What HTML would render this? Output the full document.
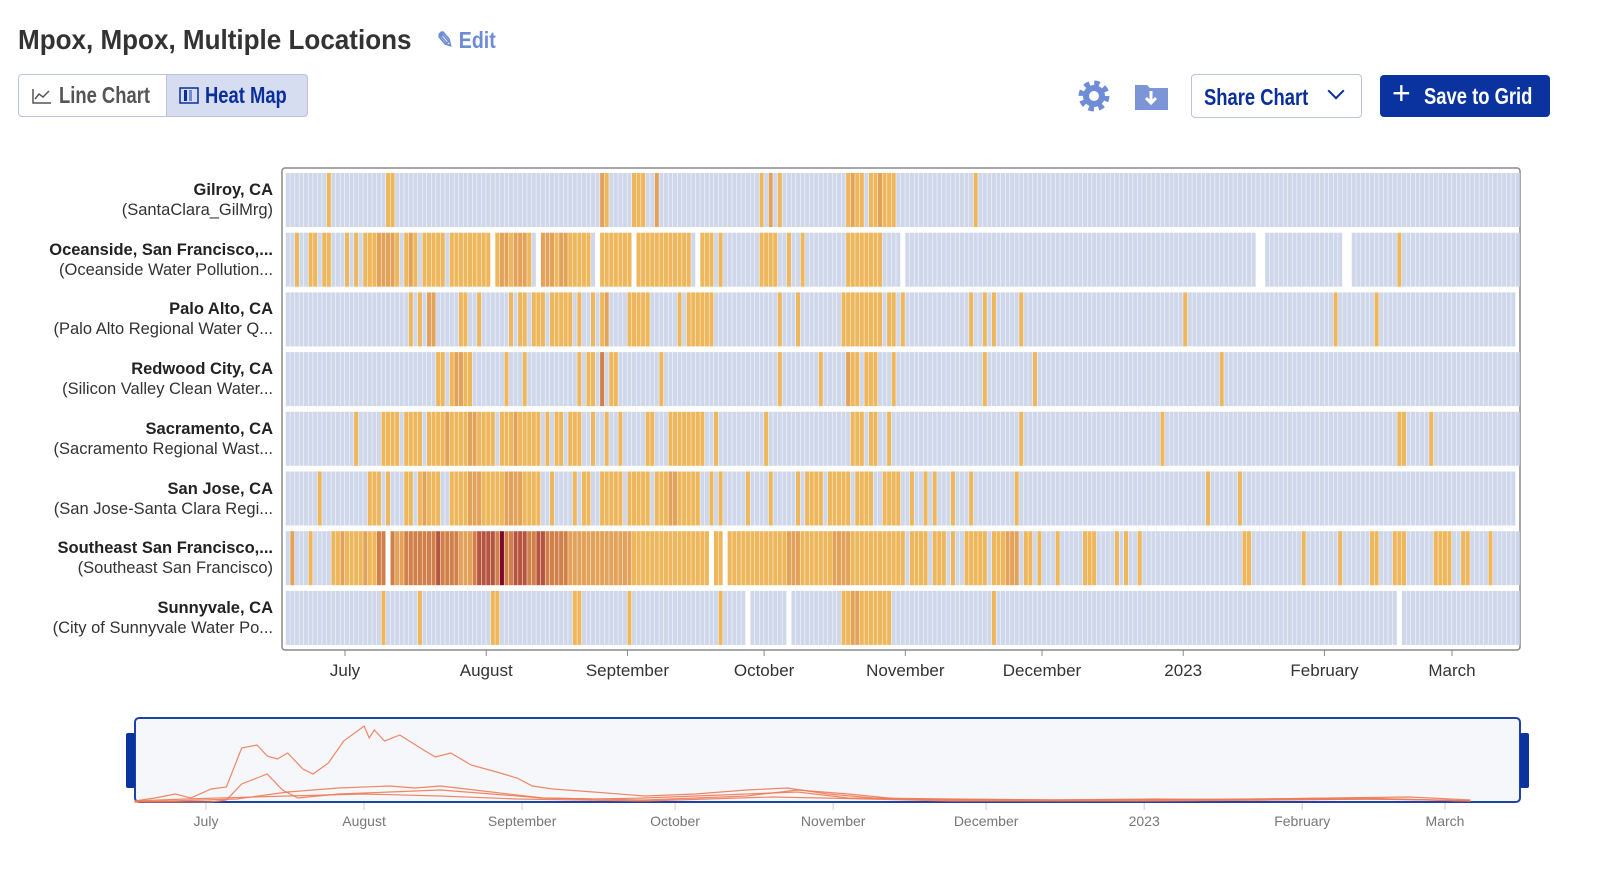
<!DOCTYPE html>
<html><head><meta charset="utf-8">
<style>
body{margin:0;background:#fff;width:1606px;height:872px;overflow:hidden;font-family:"Liberation Sans",sans-serif;color:#333;position:relative}
.abs{position:absolute;white-space:nowrap}
.sq{display:inline-block;transform-origin:left center}
#title{left:18px;top:24px;font-size:28px;font-weight:bold;color:#333}
#edit{left:437px;top:27px;font-size:23px;color:#6d8bd6;font-weight:bold}
.tog{top:74px;height:43px;border:1px solid #b9c4e0;box-sizing:border-box;font-size:23px;font-weight:bold;display:flex;align-items:center;gap:6px;padding-left:12px;overflow:hidden}
#share{left:1191px;top:74px;width:171px;height:44px;border:1px solid #b9c4e0;border-radius:4px;box-sizing:border-box;color:#0a2f9c;font-size:23px;font-weight:bold;padding:9px 0 0 12px}
#save{left:1380px;top:75px;width:170px;height:42px;background:#0a33a0;border-radius:4px;color:#fff;font-size:23px;font-weight:bold;box-sizing:border-box;padding:8px 0 0 44px}
.rl{right:1333px;text-align:right;font-size:16.5px;line-height:20px;white-space:nowrap}
.rl b{color:#222}
</style></head><body>
<div class="abs" id="title"><span class="sq" style="transform:scaleX(0.93)">Mpox, Mpox, Multiple Locations</span></div>
<div class="abs" id="edit"><span class="sq" style="transform:scaleX(0.85)">✎ Edit</span></div>
<div class="abs tog" style="left:18px;width:149px;border-radius:4px 0 0 4px;color:#555"><svg width="22" height="18" style="flex:none"><path d="M2 2V16H20" stroke="#555" fill="none" stroke-width="1.5"/><path d="M4 12L8 7L12 10L18 4" stroke="#555" fill="none" stroke-width="1.5"/></svg><span class="sq" style="transform:scaleX(0.8)">Line Chart</span></div>
<div class="abs tog" style="left:166px;width:142px;border-radius:0 4px 4px 0;background:#d7ddf0;color:#0a2f9c"><svg width="20" height="18" style="flex:none"><rect x="1" y="1" width="18" height="15" fill="none" stroke="#0a2f9c" stroke-width="1.5"/><rect x="5" y="3" width="3" height="11" fill="#0a2f9c"/><rect x="10" y="3" width="3" height="11" fill="#6d8bd6"/></svg><span class="sq" style="transform:scaleX(0.8)">Heat Map</span></div>
<svg class="abs" style="left:1076px;top:78px" width="36" height="36"><circle cx="18" cy="18" r="12" fill="none" stroke="#6f8cd6" stroke-width="7" stroke-dasharray="5 4.4"/><circle cx="18" cy="18" r="11" fill="#6f8cd6"/><circle cx="18" cy="18" r="5" fill="#fff"/></svg>
<svg class="abs" style="left:1134px;top:82px" width="36" height="30"><path d="M1 3H13L16 6H34V28H1Z" fill="#7b95d6"/><path d="M17 9V21M12 16L17 21L22 16" stroke="#fff" stroke-width="3" fill="none"/></svg>
<div class="abs" id="share"><span class="sq" style="transform:scaleX(0.8)">Share Chart</span><span style="position:absolute;left:138px;top:10px;width:10px;height:10px;border-right:2.5px solid #0a2f9c;border-bottom:2.5px solid #0a2f9c;transform:rotate(45deg)"></span></div>
<div class="abs" id="save"><span style="position:absolute;left:12px;top:0px;font-size:32px;font-weight:normal">+</span><span class="sq" style="transform:scaleX(0.8)">Save to Grid</span></div>

<div id="labels"></div>
<svg id="chart" class="abs" style="left:0;top:0" width="1606" height="872"></svg>

<script>
const rowNames=["Gilroy, CA","Oceanside, San Francisco,...","Palo Alto, CA","Redwood City, CA","Sacramento, CA","San Jose, CA","Southeast San Francisco,...","Sunnyvale, CA"];
const rowSites=["(SantaClara_GilMrg)","(Oceanside Water Pollution...","(Palo Alto Regional Water Q...","(Silicon Valley Clean Water...","(Sacramento Regional Wast...","(San Jose-Santa Clara Regi...","(Southeast San Francisco)","(City of Sunnyvale Water Po..."];
const startDate="2022-06-18";
const rowEnd=[270,270,269,270,270,269,270,270];
const rowGaps=[[],[45,55,68,76,90,135,213,214,232,233],[],[],[],[],[22,93,96],[101,110,244]];
// events: [startDay, nDays, level]
const ev0=[[9,1,1],[22,2,1],[69,1,2],[70,1,1],[76,3,1],[81,1,2],[104,1,1],[106,1,2],[108,1,1],[123,4,1],[124,1,2],[128,6,1],[130,1,2],[151,1,1]];
const ev1=[[2,1,1],[5,2,1],[8,2,1],[13,1,1],[15,1,1],[17,8,1],[20,4,2],[26,3,1],[27,1,2],[30,5,1],[36,9,1],[46,8,1],[47,2,2],[50,3,2],[56,3,2],[59,8,1],[60,2,2],[69,7,1],[77,12,1],[91,3,1],[95,1,1],[104,4,1],[110,1,1],[113,1,1],[123,8,1],[244,1,1]];
const ev2=[[27,1,1],[29,1,1],[31,2,2],[38,2,1],[42,1,1],[49,1,1],[51,1,1],[52,1,1],[54,3,1],[58,5,1],[64,1,1],[67,1,1],[69,1,1],[70,1,2],[75,5,1],[86,1,1],[88,6,1],[108,1,1],[112,1,1],[122,9,1],[132,2,1],[135,1,1],[150,1,1],[153,1,1],[155,1,1],[161,1,1],[197,1,1],[230,1,1],[239,1,1]];
const ev3=[[33,2,1],[36,4,1],[37,2,2],[40,1,1],[48,1,1],[52,1,1],[64,1,1],[66,2,1],[69,1,3],[71,2,1],[82,1,1],[108,1,1],[117,1,1],[123,3,1],[123,1,2],[127,3,1],[133,1,1],[153,1,1],[164,1,1],[205,1,1]];
const ev4=[[15,1,1],[21,4,1],[26,4,1],[31,15,1],[35,1,2],[40,2,2],[47,9,1],[50,1,2],[57,1,1],[59,2,1],[62,2,1],[64,1,1],[67,1,1],[70,1,1],[73,1,1],[79,2,1],[84,8,1],[94,1,1],[105,1,1],[124,3,1],[128,2,1],[132,1,1],[161,1,1],[192,1,1],[244,2,1],[251,1,1]];
const ev5=[[7,1,1],[18,3,1],[22,1,1],[26,2,1],[29,5,1],[30,1,2],[36,20,1],[40,3,2],[48,4,2],[58,1,1],[63,1,1],[65,2,1],[69,3,1],[72,2,1],[75,5,1],[81,9,1],[84,2,2],[90,1,1],[93,1,1],[95,1,1],[101,1,1],[106,1,1],[112,1,1],[114,4,1],[119,5,1],[125,4,1],[131,2,1],[133,2,1],[137,1,1],[140,1,1],[142,1,1],[146,1,1],[150,1,1],[160,1,1],[202,1,1],[209,1,1]];
const ev6=[[1,1,2],[5,1,1],[10,12,1],[12,1,2],[17,1,2],[20,2,3],[23,10,3],[24,2,2],[33,1,4],[34,13,3],[38,3,2],[42,4,4],[47,1,5],[48,14,3],[50,3,4],[55,2,4],[62,14,2],[76,17,1],[94,2,1],[97,7,1],[104,26,1],[110,3,2],[120,4,2],[130,6,1],[137,2,1],[139,2,1],[142,3,1],[146,1,1],[149,5,1],[155,3,1],[158,3,2],[162,2,1],[165,1,1],[169,1,1],[175,3,1],[182,1,1],[184,1,1],[187,1,1],[210,2,1],[223,1,1],[231,1,1],[238,2,1],[243,3,1],[252,4,1],[258,2,1],[264,1,1]];
const ev7=[[21,1,1],[29,1,1],[45,2,1],[63,2,1],[75,1,1],[95,1,1],[122,11,1],[124,2,2],[155,1,1]];
const rowEvents=[ev0,ev1,ev2,ev3,ev4,ev5,ev6,ev7];
const levelColors=["#cfd7ea","#eeb75c","#e3a25a","#d08048","#b5553f","#7d0a2c"];
const monthTicks=["2022-07-01","2022-08-01","2022-09-01","2022-10-01","2022-11-01","2022-12-01","2023-01-01","2023-02-01","2023-03-01"];
const monthLabels=["July","August","September","October","November","December","2023","February","March"];
const navStart="2022-06-17";
const navDaysA=[0,4,8,11,15,18,21,24,26,28,30,33,35,38,41,45,46,47,49,52,57,59,62,66,71,75,78,82,90,100,110,120,128,136,145,160,180,200,220,240,255,262];
const navValsA=[1,4,8,4,13,15,54,57,46,43,49,33,28,39,61,76,64,72,61,67,51,45,49,37,30,24,16,13,10,6,8,12,14,8,4,3,2,3,2,3,2,1];
const navDaysB=[0,15,18,21,24,26,29,32,40,50,60,70,80,90,100,120,130,140,160,200,240,255,262];
const navValsB=[0,0,2,18,24,28,12,4,8,10,12,8,4,3,4,8,10,4,2,2,4,2,1];
const navDaysC=[0,20,30,40,50,55,60,70,80,100,120,130,140,150,180,220,250,262];
const navValsC=[0,3,10,14,16,14,16,10,4,2,6,12,8,3,2,3,5,2];
const navDaysD=[0,10,30,45,60,75,100,125,135,160,200,245,262];
const navValsD=[1,3,6,8,6,3,1,5,4,1,1,3,1];

const NS="http://www.w3.org/2000/svg";
const svg=document.getElementById('chart');
const DAY=86400000;
const t0=Date.parse(startDate);
const pxDay=(1452-345)/((Date.parse("2023-03-01")-Date.parse("2022-07-01"))/DAY);
const x0=345-((Date.parse("2022-07-01")-t0)/DAY)*pxDay;
function xDay(d){return x0+d*pxDay;}
function xDate(s){return xDay((Date.parse(s)-t0)/DAY);}
function mk(tag,attrs,parent){const e=document.createElementNS(NS,tag);for(const k in attrs)e.setAttribute(k,attrs[k]);(parent||svg).appendChild(e);return e;}
const rowTop=173,rowStep=59.7,rowH=54;
const frame=mk('rect',{x:282,y:168,width:1238,height:482,rx:3,fill:'#fff',stroke:'#8a8a8a','stroke-width':1.5});


const labels=document.getElementById('labels');
rowNames.forEach((nm,r)=>{
  const g=mk('g',{});
  
  
  const vals=new Array(rowEnd[r]+1).fill(0);
  rowEvents[r].forEach(([s,n,l])=>{for(let d=s;d<s+n&&d<vals.length;d++)vals[d]=l;});
  rowGaps[r].forEach(d=>{if(d<vals.length)vals[d]=-1;});
  const y=rowTop+r*rowStep;
  vals.forEach((v,d)=>{
    if(v<0)return;
    const c=mk('rect',{x:xDay(d).toFixed(2),y:y.toFixed(1),width:(pxDay-0.5).toFixed(2),height:rowH,fill:levelColors[v]},g);
    
    
  });
  const lab=document.createElement('div');
  lab.className='abs rl';lab.style.top=(y+7)+'px';
  lab.innerHTML='<b>'+nm+'</b><br>'+rowSites[r];
  
  
  labels.appendChild(lab);
});
monthTicks.forEach((m,i)=>{
  const x=xDate(m);
  mk('line',{x1:x,x2:x,y1:650,y2:656,stroke:'#8a8a8a'});
  const t=mk('text',{x:x,y:676,'text-anchor':'middle','font-size':17,fill:'#333','font-family':'Liberation Sans, sans-serif'});
  t.textContent=monthLabels[i];
  
  
});
const nt0=Date.parse(navStart);
const npx=(1445-206)/((Date.parse("2023-03-01")-Date.parse("2022-07-01"))/DAY);
const nx0=206-((Date.parse("2022-07-01")-nt0)/DAY)*npx;
function nx(d){return nx0+d*npx;}
function ny(v){return 802-v;}
const nav=mk('rect',{x:135,y:718,width:1385,height:84,rx:4,fill:'#f5f7fb',stroke:'#1f42a8','stroke-width':2});


[[navDaysA,navValsA],[navDaysB,navValsB],[navDaysC,navValsC],[navDaysD,navValsD]].forEach(([ds,vs],i)=>{
  const p=mk('polyline',{points:ds.map((d,j)=>nx(d).toFixed(1)+','+ny(vs[j]).toFixed(1)).join(' '),fill:'none',stroke:'#ee7a55','stroke-width':1.2,opacity:0.9});
  
  
});
const hl=mk('rect',{x:126,y:733,width:9,height:55,rx:2,fill:'#0a33a0'});


const hr=mk('rect',{x:1520,y:733,width:9,height:55,rx:2,fill:'#0a33a0'});


monthTicks.forEach((m,i)=>{
  const x=nx((Date.parse(m)-nt0)/DAY);
  mk('line',{x1:x,x2:x,y1:803,y2:810,stroke:'#ccc'});
  const t=mk('text',{x:x,y:826,'text-anchor':'middle','font-size':14,fill:'#777','font-family':'Liberation Sans, sans-serif'});
  t.textContent=monthLabels[i];
  
  
});
</script>
</body></html>
